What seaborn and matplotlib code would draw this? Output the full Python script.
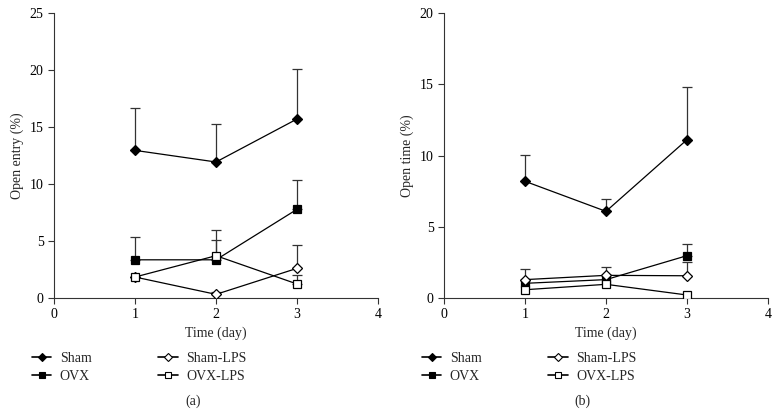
import numpy as np
import pandas as pd
import matplotlib
matplotlib.use("Agg")
import matplotlib.pyplot as plt
import seaborn as sns
from matplotlib.lines import Line2D

days = [1, 2, 3]
groups = ["Sham", "OVX", "Sham-LPS", "OVX-LPS"]

# Panel (a): Open entry (%)
entry_sham = [12.95, 11.93, 15.7]
entry_ovx = [3.35, 3.35, 7.78]
entry_shamlps = [1.84, 0.32, 2.6]
entry_ovxlps = [1.84, 3.71, 1.23]
entry_sham_up = [16.67, 15.23, 20.09]
entry_ovx_up = [5.38, 5.12, 10.32]
entry_shamlps_up = [np.nan, 0.53, 4.68]
entry_ovxlps_up = [np.nan, 5.96, 2.05]

# Panel (b): Open time (%)
time_sham = [8.19, 6.08, 11.11]
time_ovx = [1.03, 1.29, 2.97]
time_shamlps = [1.29, 1.59, 1.56]
time_ovxlps = [0.58, 0.96, 0.21]
time_sham_up = [10.04, 6.95, 14.81]
time_ovx_up = [np.nan, np.nan, 3.77]
time_shamlps_up = [2.04, 2.15, 2.5]
time_ovxlps_up = [np.nan, np.nan, np.nan]

sns.set_style("ticks")
plt.rcParams['font.family'] = ['Liberation Serif', 'DejaVu Serif']
plt.rcParams['font.size'] = 10

markers = {"Sham": "D", "OVX": "s", "Sham-LPS": "D", "OVX-LPS": "s"}
faces = {"Sham": "black", "OVX": "black", "Sham-LPS": "white", "OVX-LPS": "white"}
msize = {"Sham": 5.5, "OVX": 6.3, "Sham-LPS": 5.5, "OVX-LPS": 6.3}

fig = plt.figure(figsize=(7.78, 4.15), dpi=100)
W, H = 778, 415
axA = fig.add_axes([54 / W, 1 - 298 / H, 324 / W, 285 / H])
axB = fig.add_axes([444 / W, 1 - 298 / H, 324 / W, 285 / H])

def draw(ax, vals, ups, ylabel, ymax, yticks):
    rows = []
    for g, v in zip(groups, vals):
        for d, y in zip(days, v):
            rows.append({"day": d, "value": y, "group": g})
    df = pd.DataFrame(rows)
    for g, v, u in zip(groups, vals, ups):
        v = np.array(v, float)
        u = np.array(u, float)
        err = np.where(np.isnan(u), 0, u - v)
        mask = ~np.isnan(u)
        ax.errorbar(np.array(days)[mask], v[mask],
                    yerr=[np.zeros(mask.sum()), err[mask]],
                    fmt='none', ecolor='#333333', elinewidth=0.9,
                    capsize=3.5, capthick=0.9, zorder=1)
    for g in groups:
        sub = df[df.group == g]
        sns.lineplot(data=sub, x="day", y="value", ax=ax, color="black",
                     linewidth=0.9, marker=markers[g], markersize=msize[g],
                     markerfacecolor=faces[g], markeredgecolor="black",
                     markeredgewidth=0.9, zorder=3, legend=False)
    ax.set_xlim(0, 4)
    ax.set_ylim(0, ymax)
    ax.set_xticks([0, 1, 2, 3, 4])
    ax.set_yticks(yticks)
    ax.set_xlabel("Time (day)", fontsize=10)
    ax.set_ylabel(ylabel, fontsize=10)
    sns.despine(ax=ax)
    for s in ["left", "bottom"]:
        ax.spines[s].set_linewidth(0.8)
        ax.spines[s].set_color("#333333")
    ax.tick_params(axis="both", direction="out", length=4, width=0.8,
                   labelsize=10, colors="#333333", labelcolor="black")
    handles = [Line2D([0], [0], color="black", linewidth=1.2, marker=markers[g],
                      markersize=4, markerfacecolor=faces[g],
                      markeredgecolor="black", markeredgewidth=0.8)
               for g in groups]
    ax.legend(handles, groups, loc="upper left", bbox_to_anchor=(-0.085, -0.17),
              ncol=2, frameon=False, fontsize=10, handlelength=1.4,
              handletextpad=0.6, columnspacing=4.8, labelspacing=0.35,
              borderaxespad=0)

draw(axA, [entry_sham, entry_ovx, entry_shamlps, entry_ovxlps],
     [entry_sham_up, entry_ovx_up, entry_shamlps_up, entry_ovxlps_up],
     "Open entry (%)", 25, [0, 5, 10, 15, 20, 25])
draw(axB, [time_sham, time_ovx, time_shamlps, time_ovxlps],
     [time_sham_up, time_ovx_up, time_shamlps_up, time_ovxlps_up],
     "Open time (%)", 20, [0, 5, 10, 15, 20])

fig.text(193 / W, 1 - 401 / H, "(a)", ha="center", va="center", fontsize=10)
fig.text(582 / W, 1 - 401 / H, "(b)", ha="center", va="center", fontsize=10)

fig.savefig("out.png", dpi=100)
